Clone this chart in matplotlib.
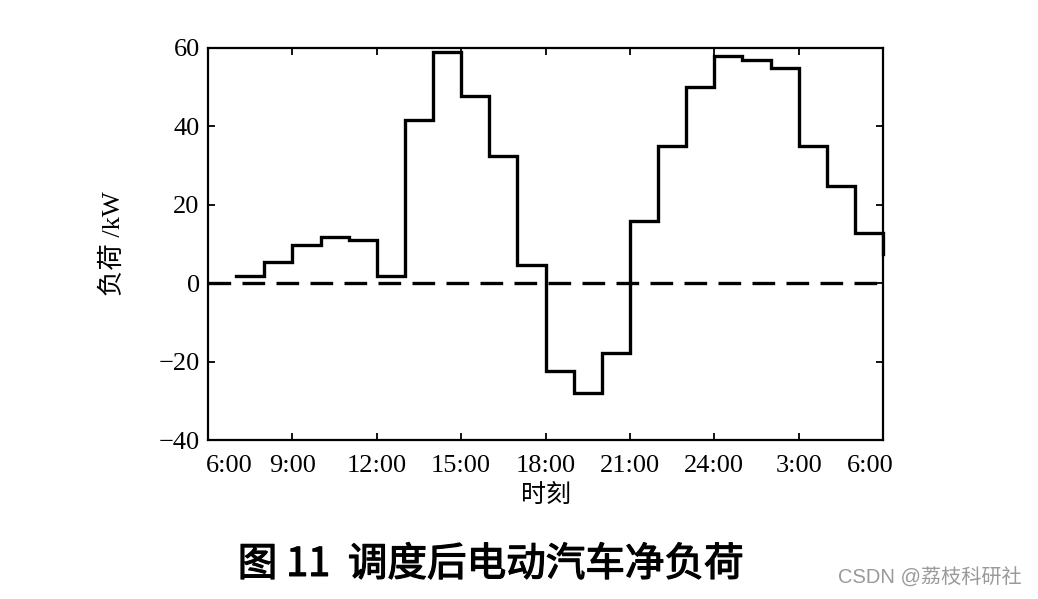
import matplotlib
matplotlib.use("Agg")
import matplotlib.pyplot as plt
import matplotlib.patheffects as pe
from matplotlib.transforms import ScaledTranslation

# Data
hours = [7, 8, 9, 10, 11, 12, 13, 14, 15, 16, 17, 18, 19, 20, 21, 22, 23, 24, 25, 26, 27, 28, 29, 30]
load = [1.8, 5.3, 9.7, 11.8, 10.9, 1.8, 41.6, 58.9, 47.7, 32.4, 4.7, -22.3, -28.1, -17.7,
        15.9, 35.0, 50.1, 57.9, 56.9, 54.8, 35.0, 24.8, 12.9, 7.4]
tick_pos = [6, 9, 12, 15, 18, 21, 24, 27, 30]
tick_labels = ['6:00', '9:00', '12:00', '15:00', '18:00', '21:00', '24:00', '3:00', '6:00']
y_ticks = [-40, -20, 0, 20, 40, 60]

serif = ['Liberation Serif', 'Noto Sans CJK SC']
cjk = ['Noto Sans CJK SC', 'DejaVu Sans']

fig = plt.figure(figsize=(10.38, 5.99), dpi=100)
ax = fig.add_axes([0.2004, 0.2654, 0.6503, 0.6545])

ax.step(hours, load, where='post', color='black', lw=2.4, solid_joinstyle='miter', clip_on=False)
ax.plot([6, 30], [0, 0], color='black', lw=2.4, linestyle=(0, (6.8, 3.4)))

ax.set_xlim(6, 30)
ax.set_ylim(-40, 60)
ax.set_xticks(tick_pos)
ax.set_xticklabels(tick_labels, family=serif, fontsize=19)
ax.set_yticks(y_ticks)
ax.set_yticklabels(['\u221240', '\u221220', '0', '20', '40', '60'], family=serif, fontsize=19)
ax.tick_params(direction='in', length=5, width=1.3, top=True, right=True)
ax.tick_params(axis='x', pad=11)
ax.tick_params(axis='y', pad=6)
for s in ax.spines.values():
    s.set_linewidth(1.6)

# shift first / last x tick labels like the original
xl = ax.get_xticklabels()
xl[0].set_transform(xl[0].get_transform() + ScaledTranslation(21 / 100, 0, fig.dpi_scale_trans))
xl[-1].set_transform(xl[-1].get_transform() + ScaledTranslation(-13 / 100, 0, fig.dpi_scale_trans))

ax.set_xlabel('时刻', family=cjk, fontsize=18, labelpad=3)
ax.set_ylabel('负荷 /kW', family=serif, fontsize=19, labelpad=24)

title = fig.text(0.473, 0.057, '图 11  调度后电动汽车净负荷', family=cjk, fontsize=28.5,
                 ha='center', va='center', fontweight='normal')
title.set_path_effects([pe.withStroke(linewidth=0.9, foreground='black')])
fig.text(0.9845, 0.035, 'CSDN @荔枝科研社', family=['Liberation Sans', 'Noto Sans CJK SC'],
         fontsize=14.5, color='#9a9a9a', ha='right', va='center')

fig.savefig('out.png', dpi=100)
